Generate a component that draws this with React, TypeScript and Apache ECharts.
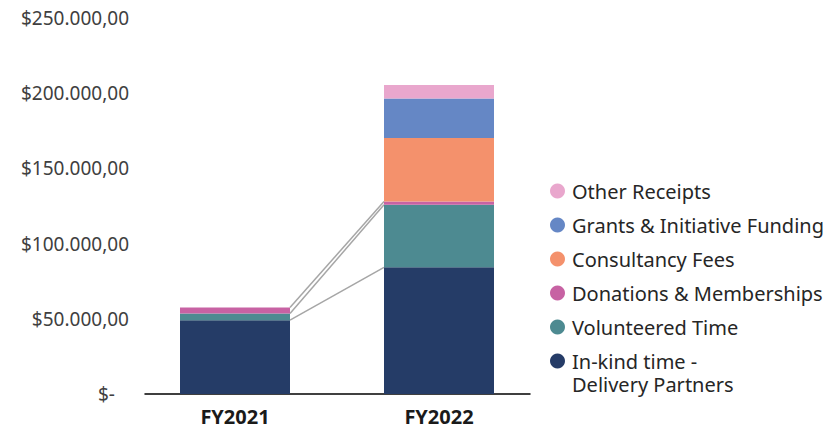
import React, { useEffect, useRef } from "react";
import * as echarts from "echarts";

// ---- data ----
const categories = ["FY2021", "FY2022"];
const inKindTime: (number | null)[] = [49100, 84200];
const volunteeredTime: (number | null)[] = [4400, 41600];
const donations: (number | null)[] = [4000, 2200];
const consultancyFees: (number | null)[] = [null, 42200];
const grantsFunding: (number | null)[] = [null, 26300];
const otherReceipts: (number | null)[] = [null, 8900];

const seriesNames = [
  "In-kind time - Delivery Partners",
  "Volunteered Time",
  "Donations & Memberships",
  "Consultancy Fees",
  "Grants & Initiative Funding",
  "Other Receipts",
];
// legend text (first line) and continuation line for the wrapped entry
const legendLabels: Record<string, string> = {
  "In-kind time - Delivery Partners": "In-kind time -",
};
const legendContinuation = "Delivery Partners";

const seriesValues = [inKindTime, volunteeredTime, donations, consultancyFees, grantsFunding, otherReceipts];
const seriesColors = ["#253c67", "#4d8a91", "#c762a3", "#f4916c", "#6587c5", "#e9a7cd"];

const yMin = 0;
const yMax = 250000;
const yInterval = 50000;

const BAR_WIDTH = 110;
const FONT = "'Noto Sans', 'Open Sans', sans-serif";

function fmtMoney(v: number): string {
  if (v === 0) return "{d|$-}";
  const s = Math.round(v).toString().replace(/\B(?=(\d{3})+(?!\d))/g, ".");
  return "$" + s + ",00";
}

// series lines connect cumulative tops of series present in both bars
function buildSeriesLines() {
  const lines: number[][] = [];
  let cumA = 0;
  let cumB = 0;
  for (let s = 0; s < seriesValues.length; s++) {
    const a = seriesValues[s][0];
    const b = seriesValues[s][1];
    cumA += a ?? 0;
    cumB += b ?? 0;
    if (a != null && b != null) lines.push([0, cumA, cumB]);
  }
  return lines;
}

export default function App() {
  const ref = useRef<HTMLDivElement>(null);

  useEffect(() => {
    document.body.style.margin = "0";
    if (!ref.current) return;
    const chart = echarts.init(ref.current, undefined, { renderer: "svg" });

    const barSeries = seriesNames.map((name, s) => ({
      name,
      type: "bar" as const,
      stack: "total",
      barWidth: BAR_WIDTH,
      xAxisIndex: 0,
      yAxisIndex: 0,
      itemStyle: { color: seriesColors[s] },
      data: categories.map((_, i) => (seriesValues[s][i] == null ? "-" : seriesValues[s][i])),
    }));

    const LEGEND_LEFT = 550;
    const LEGEND_TOP = 179;
    const legendTextStyle = {
      fontFamily: FONT,
      fontSize: 20,
      color: "#262626",
      lineHeight: 24,
    };

    chart.setOption({
      animation: false,
      grid: [
        { left: 133, width: 408, top: 18, height: 376 },
        { left: 145, width: 385, top: 18, height: 376 },
      ],
      xAxis: [
        {
          type: "category",
          gridIndex: 0,
          data: categories,
          axisTick: { show: false },
          axisLine: { show: false },
          axisLabel: {
            fontFamily: FONT,
            fontSize: 20,
            fontWeight: "bold",
            color: "#1a1a1a",
            margin: 12,
          },
        },
        {
          type: "value",
          gridIndex: 1,
          min: 0,
          max: 1,
          splitLine: { show: false },
          axisTick: { show: false },
          axisLabel: { show: false },
          axisLine: { show: true, onZero: false, lineStyle: { color: "#000", width: 1.5 } },
        },
      ],
      yAxis: [
        {
          type: "value",
          gridIndex: 0,
          min: yMin,
          max: yMax,
          interval: yInterval,
          splitLine: { show: false },
          axisLine: { show: false },
          axisTick: { show: false },
          axisLabel: { show: false },
        },
        {
          type: "value",
          gridIndex: 1,
          min: yMin,
          max: yMax,
          interval: yInterval,
          splitLine: { show: false },
          axisLine: { show: false },
          axisTick: { show: false },
          axisLabel: {
            formatter: fmtMoney,
            fontFamily: FONT,
            fontSize: 19,
            color: "#404040",
            margin: 16,
            rich: { d: { padding: [0, 14, 0, 0] } },
          },
        },
      ],
      legend: {
        orient: "vertical",
        left: LEGEND_LEFT,
        top: LEGEND_TOP,
        padding: 0,
        itemGap: 10,
        itemWidth: 19,
        itemHeight: 15,
        icon: "circle",
        selectedMode: false,
        data: seriesNames.slice().reverse(),
        formatter: (name: string) => legendLabels[name] ?? name,
        textStyle: legendTextStyle,
      },
      graphic: [
        {
          type: "text",
          left: LEGEND_LEFT + 22,
          top: LEGEND_TOP + 5 * 34 + 25,
          silent: true,
          style: {
            text: legendContinuation,
            fontFamily: FONT,
            fontSize: 20,
            fill: "#262626",
            lineHeight: 20,
          },
        },
      ],
      series: [
        {
          type: "custom",
          name: "seriesLines",
          silent: true,
          z: 1,
          xAxisIndex: 0,
          yAxisIndex: 0,
          encode: { x: 0, y: 1 },
          data: buildSeriesLines(),
          renderItem: (_params: any, api: any) => {
            const p1 = api.coord([0, api.value(1)]);
            const p2 = api.coord([1, api.value(2)]);
            return {
              type: "line",
              shape: { x1: p1[0] + BAR_WIDTH / 2, y1: p1[1], x2: p2[0] - BAR_WIDTH / 2, y2: p2[1] },
              style: { stroke: "#a6a6a6", lineWidth: 1.5 },
            };
          },
        },
        ...barSeries,
      ],
    });

    return () => chart.dispose();
  }, []);

  return <div ref={ref} style={{ width: 835, height: 428 }} />;
}
